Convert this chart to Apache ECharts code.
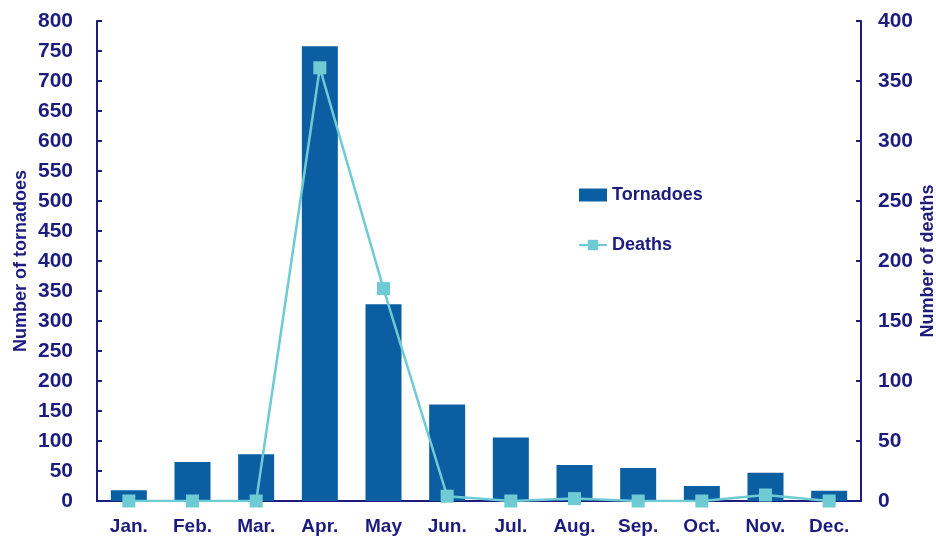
<!DOCTYPE html>
<html>
<head>
<meta charset="utf-8">
<script src="https://cdn.jsdelivr.net/npm/echarts@6/dist/echarts.min.js"></script>
<style>
  html, body { margin: 0; padding: 0; background: #fff; }
  #chart { width: 936px; height: 541px; }
</style>
</head>
<body>
<div id="chart"></div>
<script>
const months = ['Jan.', 'Feb.', 'Mar.', 'Apr.', 'May', 'Jun.', 'Jul.', 'Aug.', 'Sep.', 'Oct.', 'Nov.', 'Dec.']
const tornadoes = [18, 65, 78, 758, 328, 161, 106, 60, 55, 25, 47, 17]
const deaths = [0, 0, 0, 361, 177, 4, 0, 2, 0, 0, 5, 0]

const navy = '#1c1c7e'
const labelFont = { color: navy, fontFamily: 'Liberation Sans', fontWeight: 'bold', fontSize: 21 }
const nameFont = { color: navy, fontFamily: 'Liberation Sans', fontWeight: 'bold', fontSize: 18 }

const chart = echarts.init(document.getElementById('chart'))
chart.setOption({
  animation: false,
  grid: { left: 97, right: 75, top: 21, bottom: 40, outerBoundsMode: 'none', containLabel: false },
  legend: {
    orient: 'vertical',
    left: 573,
    top: 181,
    itemGap: 32,
    itemWidth: 28,
    itemHeight: 13,
    textStyle: { ...nameFont, fontSize: 18 },
    data: [
      { name: 'Tornadoes', icon: 'rect' },
      { name: 'Deaths' }
    ]
  },
  xAxis: {
    type: 'category',
    data: months,
    axisLine: { lineStyle: { color: navy, width: 2 } },
    axisTick: { inside: true, length: 5, lineStyle: { color: navy, width: 2 } },
    axisLabel: { ...labelFont, fontSize: 19, margin: 16 }
  },
  yAxis: [
    {
      type: 'value', min: 0, max: 800, interval: 50,
      name: 'Number of tornadoes', nameLocation: 'middle', nameGap: 67, nameRotate: 90,
      nameMoveOverlap: false,
      nameTextStyle: nameFont,
      axisLine: { show: true, lineStyle: { color: navy, width: 2 } },
      axisTick: { show: true, inside: true, length: 5, lineStyle: { color: navy, width: 2 } },
      axisLabel: { ...labelFont, margin: 24 },
      splitLine: { show: false }
    },
    {
      type: 'value', min: 0, max: 400, interval: 50, position: 'right',
      name: 'Number of deaths', nameLocation: 'middle', nameGap: 58, nameRotate: 90,
      nameMoveOverlap: false,
      nameTextStyle: nameFont,
      axisLine: { show: true, lineStyle: { color: navy, width: 2 } },
      axisTick: { show: true, inside: true, length: 5, lineStyle: { color: navy, width: 2 } },
      axisLabel: { ...labelFont, margin: 17 },
      splitLine: { show: false }
    }
  ],
  series: [
    {
      name: 'Tornadoes',
      type: 'bar',
      data: tornadoes,
      barWidth: 36,
      itemStyle: { color: '#0a5fa3' }
    },
    {
      name: 'Deaths',
      type: 'line',
      yAxisIndex: 1,
      data: deaths,
      symbol: 'rect',
      symbolSize: 13,
      lineStyle: { color: '#6fcbd3', width: 2.5 },
      itemStyle: { color: '#6fcbd3' }
    }
  ]
})
</script>
</body>
</html>
